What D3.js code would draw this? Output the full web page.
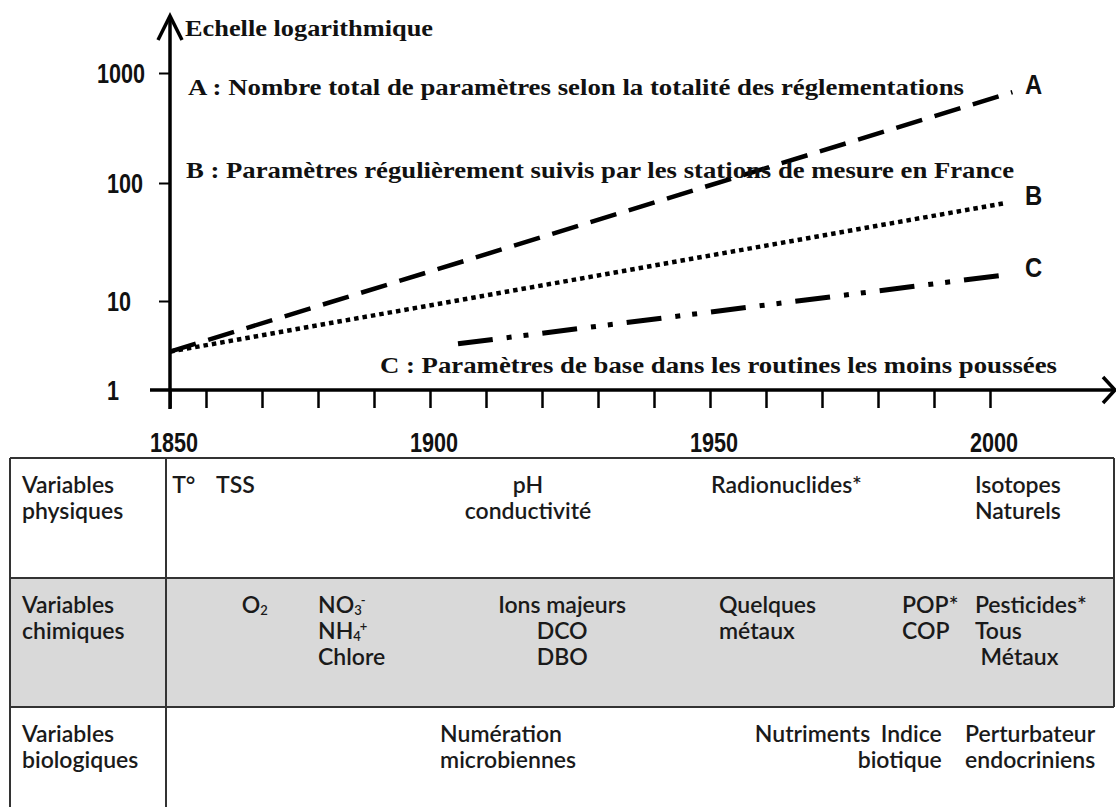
<!DOCTYPE html>
<html lang="fr">
<head>
<meta charset="utf-8">
<title>Paramètres de qualité de l'eau</title>
<script src="https://cdn.jsdelivr.net/npm/d3@7/dist/d3.min.js"></script>
<style>
  html, body { margin: 0; padding: 0; background: #fff; }
  svg { display: block; }
  .serif { font-family: "Liberation Serif", "Times New Roman", serif; font-weight: bold; fill: #111; }
  .num { font-family: "Liberation Sans", Arial, sans-serif; font-weight: bold; fill: #111; }
  .cell { font-family: Lato, "Open Sans", sans-serif; font-weight: 600; fill: #1a1a1a; }
</style>
</head>
<body>
<svg id="chart" width="1116" height="807"></svg>
<script>
// ---------- data ----------
const seriesNames = ["A", "B", "C"];
const seriesStartYears = [1850, 1850, 1905];
const seriesEndYears = [2004, 2003, 2002];
const seriesStartCounts = [2.7, 2.7, 3.3];
const seriesEndCounts = [670, 68, 16.5];
const seriesCaptions = [
  "A : Nombre total de paramètres selon la totalité des réglementations",
  "B : Paramètres régulièrement suivis par les stations de mesure en France",
  "C : Paramètres de base dans les routines les moins poussées"
];
const axisTitle = "Echelle logarithmique";
const yTickValues = [1, 10, 100, 1000];
const yTickLabels = ["1", "10", "100", "1000"];
const xLabelYears = [1850, 1900, 1950, 2000];
const xTickYears = [1850, 1860, 1870, 1880, 1890, 1900, 1910, 1920, 1930, 1940, 1950, 1960, 1970, 1980, 1990, 2000];

const rowTitles = [["Variables", "physiques"], ["Variables", "chimiques"], ["Variables", "biologiques"]];
// parameters of each family, with the period they entered monitoring
const physicalParams = [
  { year: 1850.6, lines: ["T°"], align: "start" },
  { year: 1861.8, lines: ["TSS"], align: "start" },
  { year: 1917.5, lines: ["pH", "conductivité"], align: "middle" },
  { year: 1950.2, lines: ["Radionuclides*"], align: "start" },
  { year: 1997.3, lines: ["Isotopes", "Naturels"], align: "start" }
];
const chemicalParams = [
  { year: 1866.4, lines: ["O_{2}"], align: "start" },
  { year: 1880.0, lines: ["NO_{3}^{-}", "NH_{4}^{+}", "Chlore"], align: "start" },
  { year: 1923.6, lines: ["Ions majeurs", "DCO", "DBO"], align: "middle" },
  { year: 1951.6, lines: ["Quelques", "métaux"], align: "start" },
  { year: 1984.3, lines: ["POP*", "COP"], align: "start" },
  { year: 1997.3, lines: ["Pesticides*", "Tous", "\u00a0Métaux"], align: "start" }
];
const biologicalParams = [
  { year: 1901.8, lines: ["Numération", "microbiennes"], align: "start" },
  { year: 1958.0, lines: ["Nutriments"], align: "start" },
  { year: 1991.4, lines: ["Indice", "biotique"], align: "end" },
  { year: 2018.8, lines: ["Perturbateur", "endocriniens"], align: "end" }
];
const tableRows = [physicalParams, chemicalParams, biologicalParams];

// ---------- layout ----------
const svg = d3.select("#chart");
const x = d3.scaleLinear().domain([1850, 1860, 2000]).range([170, 206, 990]);
const y = d3.scaleLog().domain([1, 10, 100, 1000]).range([390, 301, 183, 73]);

const axisY0 = x(1850);
const axisX0 = y(1);

// shrink a text horizontally (narrow face) and anchor it by hand
function narrow(sel, k, anchor, ax) {
  sel.each(function () {
    const len = this.getComputedTextLength() * k;
    const s = d3.select(this).attr("textLength", len).attr("lengthAdjust", "spacingAndGlyphs");
    const x0 = anchor === "end" ? ax - len : anchor === "middle" ? ax - len / 2 : ax;
    s.attr("x", x0);
  });
}
function fitWidth(sel, width) {
  sel.attr("textLength", width).attr("lengthAdjust", "spacingAndGlyphs");
}

// ---------- table ----------
const table = svg.append("g");
const rowTops = [458, 578, 707];
const rowBottoms = [578, 707, 807];
const tableLeft = 10, tableRight = 1114, titleDivider = 166;

table.append("rect")
  .attr("x", tableLeft).attr("y", rowTops[1])
  .attr("width", tableRight - tableLeft).attr("height", rowBottoms[1] - rowTops[1])
  .attr("fill", "#d9d9d9");

const borderColor = "#333";
rowTops.forEach(yy => {
  table.append("line").attr("x1", tableLeft).attr("x2", tableRight).attr("y1", yy).attr("y2", yy)
    .attr("stroke", borderColor).attr("stroke-width", 2);
});
table.append("line").attr("x1", tableLeft).attr("x2", tableLeft).attr("y1", rowTops[0]).attr("y2", 807)
  .attr("stroke", borderColor).attr("stroke-width", 2);
table.append("line").attr("x1", titleDivider).attr("x2", titleDivider).attr("y1", rowTops[0]).attr("y2", 807)
  .attr("stroke", borderColor).attr("stroke-width", 2);
table.append("line").attr("x1", tableRight).attr("x2", tableRight).attr("y1", rowTops[0]).attr("y2", rowBottoms[1])
  .attr("stroke", borderColor).attr("stroke-width", 2);

const firstBaseline = 35, lineStep = 26;

// chemical formulas: _{..} subscript, ^{..} superscript
function addRich(textSel, str) {
  const parts = str.split(/(_\{[^}]*\}|\^\{[^}]*\})/).filter(s => s.length);
  let shift = 0;
  parts.forEach(p => {
    let target = 0, content = p, small = false, dx = 0;
    if (p.startsWith("_{")) { target = 2; content = p.slice(2, -1); small = true; }
    else if (p.startsWith("^{")) { target = -8; content = p.slice(2, -1); small = true; dx = -1; }
    const t = textSel.append("tspan").attr("dy", target - shift).text(content);
    if (dx) t.attr("dx", dx);
    if (small) t.attr("font-size", 13);
    shift = target;
  });
}

rowTitles.forEach((lines, r) => {
  lines.forEach((ln, i) => {
    table.append("text").attr("class", "cell").attr("font-size", 23)
      .attr("x", 22).attr("y", rowTops[r] + firstBaseline + i * lineStep).text(ln);
  });
});

tableRows.forEach((items, r) => {
  items.forEach(item => {
    item.lines.forEach((ln, i) => {
      const t = table.append("text").attr("class", "cell").attr("font-size", 23)
        .attr("x", x(item.year)).attr("y", rowTops[r] + firstBaseline + i * lineStep)
        .attr("text-anchor", item.align);
      addRich(t, ln);
    });
  });
});

// ---------- axes ----------
const axes = svg.append("g").attr("stroke", "#000").attr("fill", "none");
// vertical axis with arrow
axes.append("line").attr("x1", axisY0).attr("x2", axisY0).attr("y1", 17).attr("y2", 409).attr("stroke-width", 3.5);
axes.append("path").attr("d", `M${axisY0 - 12},40 L${axisY0},16 L${axisY0 + 12},40`).attr("stroke-width", 3.5);
// horizontal axis with arrow
axes.append("line").attr("x1", 150).attr("x2", 1115).attr("y1", axisX0).attr("y2", axisX0).attr("stroke-width", 3.5);
axes.append("path").attr("d", `M1103,${axisX0 - 13} L1115,${axisX0} L1103,${axisX0 + 13}`).attr("stroke-width", 3.5);

const xAxis = d3.axisBottom(x).tickValues(xTickYears).tickSize(18).tickFormat("");
const gx = svg.append("g").attr("transform", `translate(0,${axisX0})`).call(xAxis);
gx.select(".domain").remove();
gx.selectAll(".tick line").attr("stroke", "#000").attr("stroke-width", 2.5);

const yAxis = d3.axisLeft(y).tickValues(yTickValues.filter(v => v > 1)).tickSize(11).tickFormat("");
const gy = svg.append("g").attr("transform", `translate(${axisY0},0)`).call(yAxis);
gy.select(".domain").remove();
gy.selectAll(".tick line").attr("stroke", "#000").attr("stroke-width", 2);

// tick labels in a narrow sans face
xLabelYears.forEach(yr => {
  svg.append("text").attr("class", "num").attr("font-size", 27)
    .attr("y", 452).text(String(yr))
    .call(narrow, 0.8, "middle", x(yr) + 4);
});
yTickValues.forEach((v, i) => {
  const t = svg.append("text").attr("class", "num").attr("font-size", 27)
    .attr("y", y(v) + 10).text(yTickLabels[i]);
  const len = t.node().getComputedTextLength() * 0.8;
  if (107 + len > 152) t.call(narrow, 0.8, "end", 145);
  else t.call(narrow, 0.8, "start", 107);
});

// ---------- series ----------
const dashes = ["27,13", "4.5,4", "35,14,5,12,5,14"];
const widths = [4.5, 4.5, 5];
const line = d3.line().x(d => x(d[0])).y(d => y(d[1]));
seriesNames.forEach((name, i) => {
  const pts = [[seriesStartYears[i], seriesStartCounts[i]], [seriesEndYears[i], seriesEndCounts[i]]];
  svg.append("path").attr("d", line(pts)).attr("fill", "none")
    .attr("stroke", "#000").attr("stroke-width", widths[i])
    .attr("stroke-dasharray", dashes[i]).attr("stroke-linecap", "butt");
  svg.append("text").attr("class", "num").attr("font-size", 28)
    .attr("y", y(seriesEndCounts[i]) + 2).text(name)
    .call(narrow, 0.85, "start", x(2000) + 35);
});

// ---------- annotations ----------
svg.append("text").attr("class", "serif").attr("font-size", 23)
  .attr("x", 185).attr("y", 36).text(axisTitle).call(fitWidth, 248);
const captionPos = [[188, 95, 776], [186, 178, 828], [380, 373, 677]];
seriesCaptions.forEach((c, i) => {
  svg.append("text").attr("class", "serif").attr("font-size", 23)
    .attr("x", captionPos[i][0]).attr("y", captionPos[i][1]).text(c)
    .call(fitWidth, captionPos[i][2]);
});
</script>
</body>
</html>
